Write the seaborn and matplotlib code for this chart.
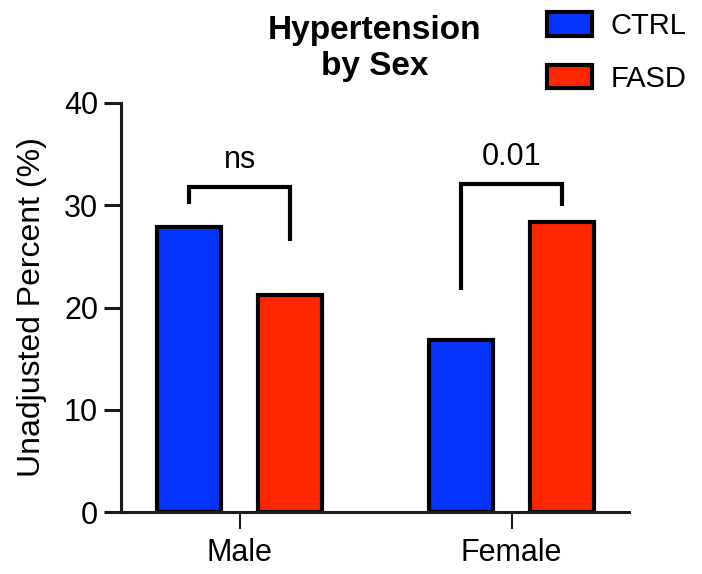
import matplotlib
matplotlib.use("Agg")
import matplotlib.pyplot as plt
import seaborn as sns
import pandas as pd

sexes = ["Male", "Female"]
groups = ["CTRL", "FASD"]
ctrl_values = [27.9, 16.8]
fasd_values = [21.2, 28.4]
palette = {"CTRL": "#0433FF", "FASD": "#FF2600"}
sig_labels = ["ns", "0.01"]
bracket_tops = [31.8, 32.1]
left_leg_bottoms = [30.1, 21.7]
right_leg_bottoms = [26.5, 29.9]
sig_text_y = [33.6, 33.9]
yticks = [0, 10, 20, 30, 40]

df = pd.DataFrame({
    "Sex": sexes * 2,
    "Group": ["CTRL"] * len(sexes) + ["FASD"] * len(sexes),
    "Value": ctrl_values + fasd_values,
})

sns.set_style("ticks")
plt.rcParams["font.family"] = ["Liberation Sans", "DejaVu Sans"]
plt.rcParams["text.color"] = "black"
plt.rcParams["axes.labelcolor"] = "black"
plt.rcParams["xtick.color"] = "black"
plt.rcParams["ytick.color"] = "black"

fig = plt.figure(figsize=(7.02, 5.74), dpi=100)
ax = fig.add_axes([121 / 702, 1 - 512 / 574, (629 - 121) / 702, (512 - 103) / 574])

sns.barplot(data=df, x="Sex", y="Value", hue="Group", order=sexes,
            hue_order=groups, palette=palette, width=0.745, gap=0.366,
            edgecolor="black", linewidth=3, saturation=1, ax=ax)

ax.set_xlim(-0.437, 1.432)
ax.set_ylim(0, 40)
ax.set_yticks(yticks)
sns.despine(ax=ax)
for s in ["left", "bottom"]:
    ax.spines[s].set_linewidth(2.2)
    ax.spines[s].set_color("#1a1a1a")
ax.tick_params(axis="y", length=12.5, width=2.2, pad=4, labelsize=22,
               color="#1a1a1a", labelcolor="black")
ax.tick_params(axis="x", length=12.5, width=1.5, pad=6, labelsize=22,
               color="#1a1a1a", labelcolor="black")
ax.set_xlabel("")
ax.set_ylabel("Unadjusted Percent (%)", fontsize=23, labelpad=12, color="black")

# significance brackets
ctrl_bars = ax.containers[0]
fasd_bars = ax.containers[1]
for i in range(len(sexes)):
    b1 = ctrl_bars[i]
    b2 = fasd_bars[i]
    x1 = b1.get_x() + b1.get_width() / 2
    x2 = b2.get_x() + b2.get_width() / 2
    ax.plot([x1, x1, x2, x2],
            [left_leg_bottoms[i], bracket_tops[i], bracket_tops[i], right_leg_bottoms[i]],
            color="black", lw=3, solid_joinstyle="miter", solid_capstyle="butt",
            clip_on=False)
    ax.text((x1 + x2) / 2, sig_text_y[i], sig_labels[i], ha="center", va="baseline",
            fontsize=22, color="black")

ax.set_title("Hypertension\nby Sex", fontsize=24, fontweight="bold", pad=20,
             linespacing=1.2, color="black")

ax.legend_.remove()
handles, labels = ax.get_legend_handles_labels()
fig.legend(handles, labels, loc="upper left",
           bbox_to_anchor=(547 / 702, (574 - 12) / 574), frameon=False,
           fontsize=21, handlelength=1.54, handleheight=0.86, handletextpad=0.65,
           labelspacing=0.85, borderpad=0, borderaxespad=0)

fig.savefig("out.png", dpi=100)
